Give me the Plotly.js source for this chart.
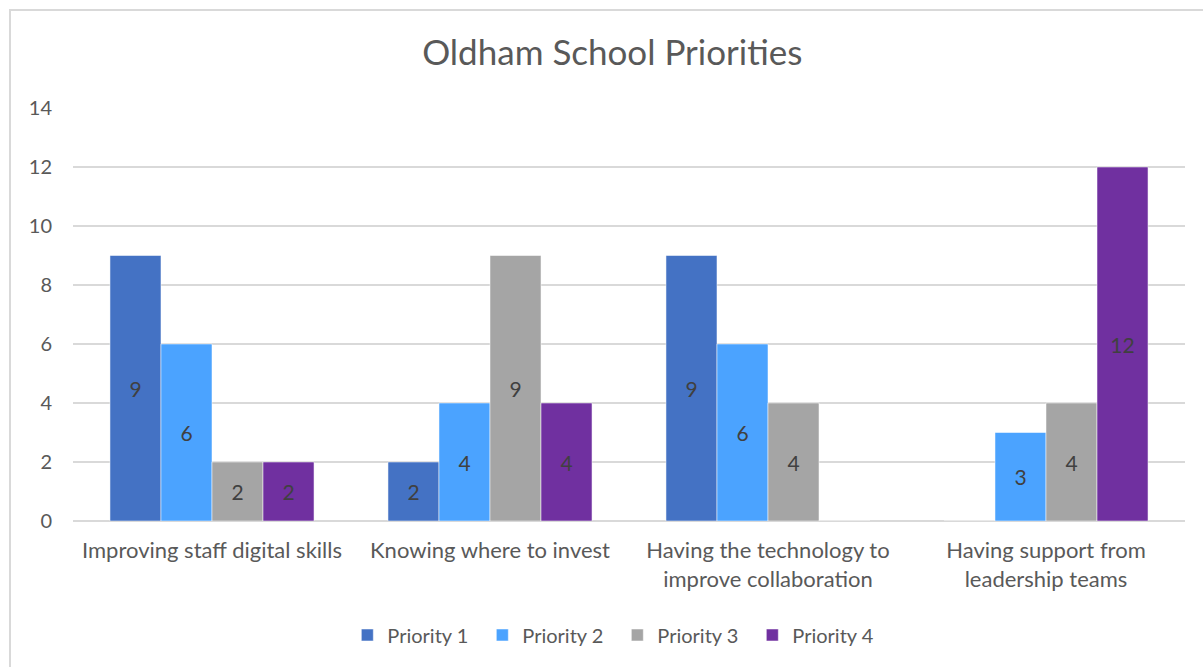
<!DOCTYPE html>
<html>
<head>
<meta charset="utf-8">
<script src="https://cdn.plot.ly/plotly-3.0.1.min.js"></script>
<style>
html,body{margin:0;padding:0;background:#fff;overflow:hidden;}
#frame{position:absolute;left:9px;top:9px;width:1400px;height:900px;border:2px solid #d9d9d9;box-sizing:border-box;}
#chart{position:absolute;left:0;top:0;width:1203px;height:667px;}
</style>
</head>
<body>
<div id="frame"></div>
<div id="chart"></div>
<script>
const categories = [
  "Improving staff digital skills",
  "Knowing where to invest",
  "Having the technology to<br>improve collaboration",
  "Having support from<br>leadership teams"
];
const seriesNames = ["Priority 1", "Priority 2", "Priority 3", "Priority 4"];
const priority1 = [9, 2, 9, 0];
const priority2 = [6, 4, 6, 3];
const priority3 = [2, 9, 4, 4];
const priority4 = [2, 4, 0, 12];
const colors = ["#4472C4", "#4BA3FF", "#A5A5A5", "#7030A0"];
const allSeries = [priority1, priority2, priority3, priority4];

const FONT = 'Lato, "Open Sans", sans-serif';

const traces = allSeries.map((vals, i) => ({
  type: 'bar',
  name: seriesNames[i],
  x: categories,
  y: vals,
  text: vals.map(v => v === 0 ? '' : String(v)),
  textposition: 'inside',
  insidetextanchor: 'middle',
  textangle: 0,
  constraintext: 'none',
  textfont: {family: FONT, size: 21, color: '#404040'},
  marker: {color: colors[i], line: {color: 'rgba(255,255,255,0.5)', width: 1}},
  hoverinfo: 'x+y+name'
}));

const layout = {
  width: 1203,
  height: 667,
  paper_bgcolor: 'rgba(0,0,0,0)',
  plot_bgcolor: 'rgba(0,0,0,0)',
  margin: {l: 73, r: 18, t: 108, b: 146},
  font: {family: FONT, color: '#595959'},
  title: {
    text: 'Oldham School Priorities',
    font: {size: 35, color: '#595959', family: FONT},
    x: 0.485, xref: 'paper', xanchor: 'center',
    y: 1 - 53/667, yref: 'container', yanchor: 'middle'
  },
  barmode: 'group',
  bargap: 0.266,
  bargroupgap: 0,
  xaxis: {
    type: 'category',
    showgrid: false,
    showline: false,
    ticks: '',
    ticklabelstandoff: 14,
    tickfont: {size: 22, color: '#595959'},
    fixedrange: true
  },
  yaxis: {
    range: [0, 14],
    dtick: 2,
    tick0: 0,
    showgrid: true,
    gridcolor: '#d9d9d9',
    gridwidth: 1.5,
    zeroline: true,
    zerolinecolor: '#d9d9d9',
    zerolinewidth: 1.5,
    showline: false,
    ticks: '',
    ticklabelstandoff: 20,
    tickfont: {size: 20, color: '#595959'},
    fixedrange: true
  },
  showlegend: true,
  legend: {
    orientation: 'h',
    x: 0.4895, xanchor: 'center',
    y: -0.276, yanchor: 'middle',
    font: {size: 20, color: '#595959'},
    traceorder: 'normal',
    itemwidth: 30,
    entrywidth: 90,
    entrywidthmode: 'pixels'
  }
};

Plotly.newPlot('chart', traces, layout, {displayModeBar: false, staticPlot: true});
</script>
</body>
</html>
